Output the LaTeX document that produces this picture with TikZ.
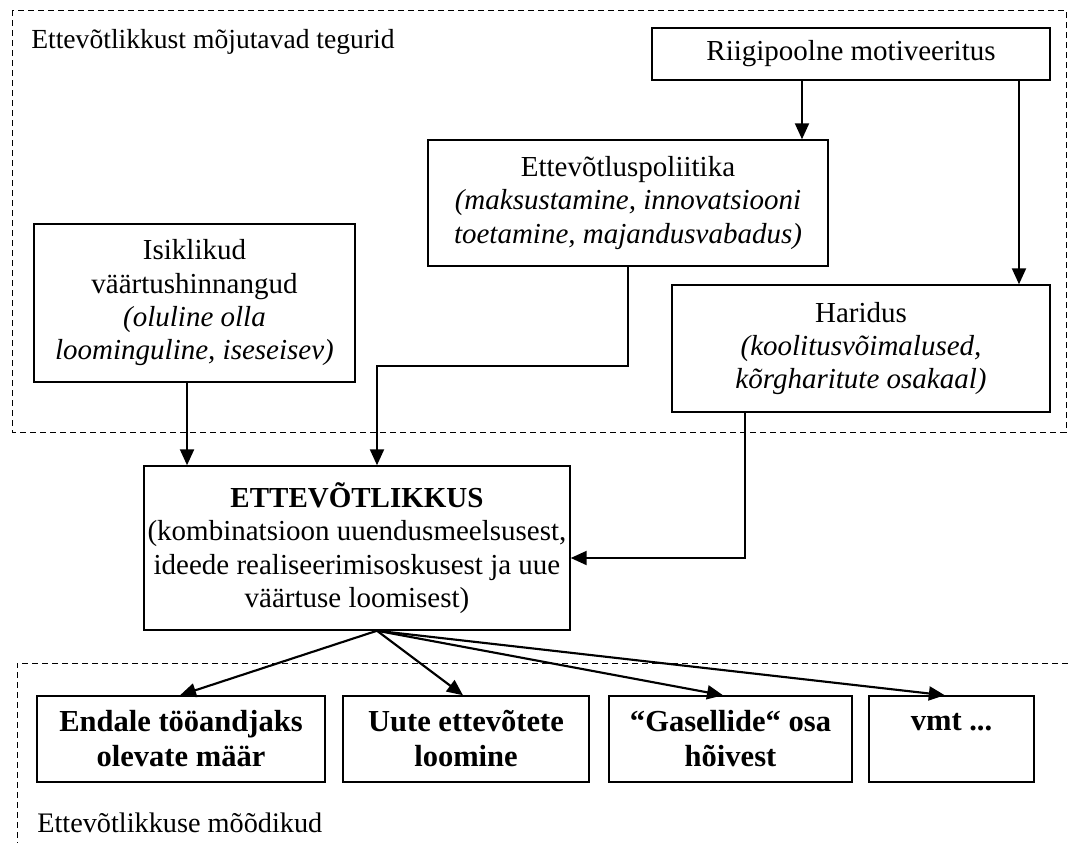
\documentclass[tikz,border=0pt]{standalone}
\usepackage{fontspec}
\setmainfont{Liberation Serif}
\usetikzlibrary{arrows.meta,calc}
\begin{document}
\begin{tikzpicture}[x=0.75pt,y=-0.75pt,
  box/.style={draw,line width=1.1pt,inner sep=0pt,align=center,
    font=\fontsize{21.75pt}{25pt}\selectfont},
  mbox/.style={draw,line width=1.1pt,inner sep=0pt,align=center,
    minimum width=#1*0.75pt,minimum height=64.5pt,
    font=\fontsize{22.9pt}{26.25pt}\selectfont\bfseries},
  arr/.style={line width=1.6pt,-{Triangle[length=12pt,width=10.5pt]}},
  region/.style={line width=0.75pt,dash pattern=on 4.5pt off 3pt},
  lbl/.style={inner sep=0pt,font=\fontsize{20.7pt}{25pt}\selectfont}]
\useasboundingbox (0,0) rectangle (1068,843);
% dashed regions
\draw[region] (12,10) rectangle (1066,432);
\draw[region] (1068,663) -- (17,663) -- (17,843);
\node[lbl,anchor=base west] (t1) at (31,48) {Ettevõtlikkust mõjutavad tegurid};
\node[lbl,anchor=base west,font=\fontsize{21.2pt}{25pt}\selectfont] (t2) at (37,832) {Ettevõtlikkuse mõõdikud};
% boxes
\node[box,minimum width=298.5pt,minimum height=39pt] (R) at (851,54) {Riigipoolne motiveeritus};
\node[box,minimum width=300pt,minimum height=94.5pt] (P) at (628,203)
  {Ettevõtluspoliitika\\\textit{(maksustamine, innovatsiooni}\\\textit{toetamine, majandusvabadus)}};
\node[box,minimum width=283.5pt,minimum height=95.25pt] (H) at (861,348.5)
  {Haridus\\\textit{(koolitusvõimalused,}\\\textit{kõrgharitute osakaal)}};
\node[box,minimum width=240.75pt,minimum height=118.5pt] (I) at (194.5,303)
  {Isiklikud\\väärtushinnangud\\\textit{(oluline olla}\\\textit{loominguline, iseseisev)}};
\node[box,minimum width=319.5pt,minimum height=123pt] (E) at (357,548)
  {\textbf{ETTEVÕTLIKKUS}\\(kombinatsioon uuendusmeelsusest,\\ideede realiseerimisoskusest ja uue\\väärtuse loomisest)};
\node[mbox=288] (B1) at (181,739) {Endale tööandjaks\\olevate määr};
\node[mbox=246] (B2) at (466,739) {Uute ettevõtete\\loomine};
\node[mbox=243] (B3) at (730.5,739) {“Gasellide“ osa\\hõivest};
\node[mbox=165] (B4) at (951.5,739) {vmt ...\\\mbox{}};
% connectors
\draw[arr] ([xshift=-36.75pt]R.south) -- ([xshift=-36.75pt]R.south |- P.north);
\draw[arr] ([xshift=126pt]R.south) -- ([xshift=126pt]R.south |- H.north);
\coordinate (pe) at (377,366);
\draw[arr] (P.south) |- (pe) -- (pe |- E.north);
\draw[arr] ([xshift=-5.6pt]I.south) -- ([xshift=-5.6pt]I.south |- E.north);
\coordinate (he) at (745,558);
\draw[arr] (he |- H.south) -- (he) -- (he -| E.east);
\coordinate (eo) at ([xshift=15pt]E.south);
\draw[arr] (eo) -- ([xshift=-0.75pt]B1.north);
\draw[arr] (eo) -- ([xshift=-2.25pt]B2.north);
\draw[arr] (eo) -- ([xshift=-5.6pt]B3.north);
\draw[arr] (eo) -- ([xshift=-5pt]B4.north);
\end{tikzpicture}
\end{document}
